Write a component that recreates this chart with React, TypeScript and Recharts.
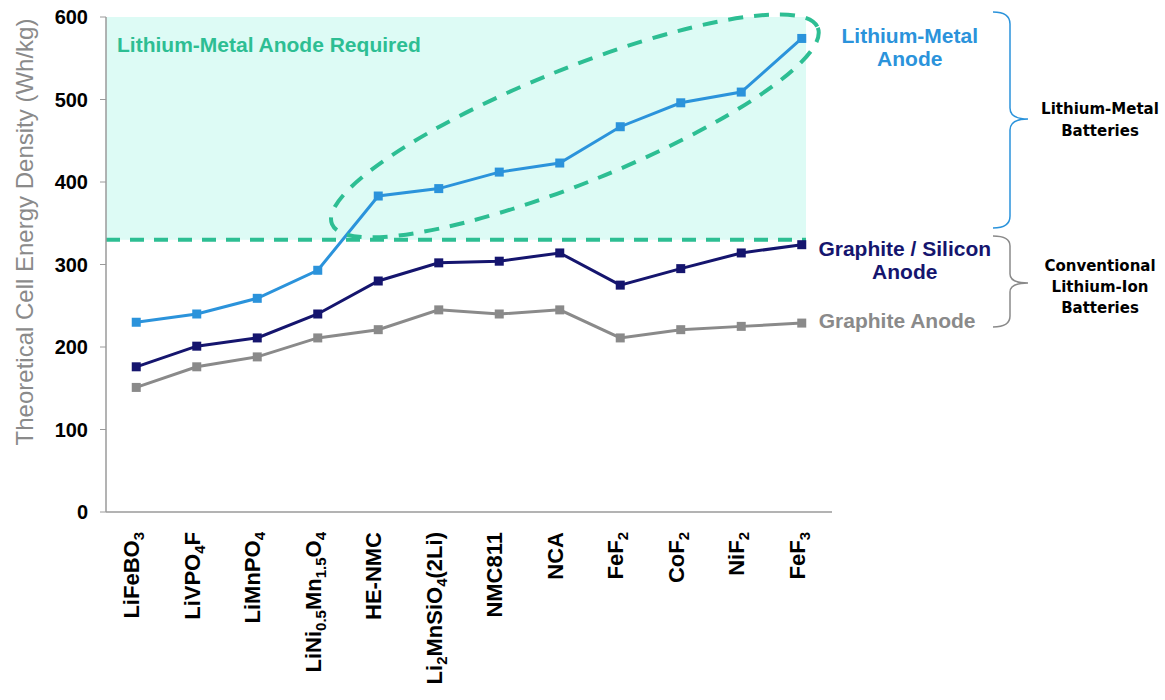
import {
  LineChart,
  Line,
  XAxis,
  YAxis,
  ReferenceArea,
  ReferenceLine,
  ReferenceDot,
  Customized,
} from 'recharts';

// Cathode materials; "_x" or "_{x}" marks a subscript
const materials = [
  'LiFeBO_3',
  'LiVPO_4F',
  'LiMnPO_4',
  'LiNi_{0.5}Mn_{1.5}O_4',
  'HE-NMC',
  'Li_2MnSiO_4(2Li)',
  'NMC811',
  'NCA',
  'FeF_2',
  'CoF_2',
  'NiF_2',
  'FeF_3',
];

// Theoretical cell energy density, Wh/kg
const lithiumMetal = [230, 240, 259, 293, 383, 392, 412, 423, 467, 496, 509, 574];
const graphiteSilicon = [176, 201, 211, 240, 280, 302, 304, 314, 275, 295, 314, 324];
const graphite = [151, 176, 188, 211, 221, 245, 240, 245, 211, 221, 225, 229];

const yTicks = [0, 100, 200, 300, 400, 500, 600];
const lithiumMetalThreshold = 330;

const rows = materials.map((name, i) => ({
  i,
  name,
  lithiumMetal: lithiumMetal[i],
  graphiteSilicon: graphiteSilicon[i],
  graphite: graphite[i],
}));

const FONT = '"Liberation Sans", Arial, sans-serif';
const BLUE = '#2B93DB';
const NAVY = '#15156E';
const GREY = '#8A8A8A';
const TEAL = '#2DBE93';
const LAST = materials.length - 1;

function splitFormula(s: string) {
  const parts: { text: string; sub: boolean }[] = [];
  const re = /_\{([^}]*)\}|_(.)/g;
  let pos = 0;
  let m: RegExpExecArray | null;
  while ((m = re.exec(s))) {
    if (m.index > pos) parts.push({ text: s.slice(pos, m.index), sub: false });
    parts.push({ text: m[1] ?? m[2], sub: true });
    pos = m.index + m[0].length;
  }
  if (pos < s.length) parts.push({ text: s.slice(pos), sub: false });
  return parts;
}

function MaterialTick({ x, y, payload }: any) {
  const parts = splitFormula(materials[payload.value] ?? '');
  return (
    <text
      transform={`translate(${x + 3},${y}) rotate(-90)`}
      textAnchor="end"
      fontFamily={FONT}
      fontSize={22}
      fontWeight="bold"
      fill="#000"
    >
      {parts.map((p, k) => {
        const prevSub = k > 0 && parts[k - 1].sub;
        if (p.sub) {
          return (
            <tspan key={k} fontSize={15} dy={prevSub ? 0 : 5}>
              {p.text}
            </tspan>
          );
        }
        return (
          <tspan key={k} dy={prevSub ? -5 : 0}>
            {p.text}
          </tspan>
        );
      })}
    </text>
  );
}

function squareDot(color: string) {
  return (p: any) => (
    <rect
      key={`dot-${p.index}`}
      x={p.cx - 4.5}
      y={p.cy - 4.5}
      width={9}
      height={9}
      fill={color}
    />
  );
}

// label drawn to the right of a series' last point
function endLabel(lines: string[], color: string, dx: number, dy: number, anchor: 'start' | 'middle') {
  return (props: any) => {
    const { x, y } = props.viewBox;
    return (
      <text fontFamily={FONT} fontSize={21} fontWeight="bold" fill={color} textAnchor={anchor}>
        {lines.map((line, k) => (
          <tspan key={k} x={x + dx} y={y + dy + k * 23}>
            {line}
          </tspan>
        ))}
      </text>
    );
  };
}

function Annotations() {
  const groupText = {
    fontFamily: '"DejaVu Sans", Verdana, sans-serif',
    fontSize: 15,
    fontWeight: 'bold' as const,
    fill: '#000',
    textAnchor: 'middle' as const,
  };
  return (
    <g>
      <text
        transform="translate(33,232) rotate(-90)"
        textAnchor="middle"
        fontFamily={FONT}
        fontSize={24}
        fill={GREY}
      >
        Theoretical Cell Energy Density (Wh/kg)
      </text>

      <path
        d="M993,12 Q1010,12 1010,24 L1010,108 Q1010,119 1028,119 Q1010,119 1010,130 L1010,216 Q1010,228 993,228"
        fill="none"
        stroke={BLUE}
        strokeWidth={1.5}
      />
      <text {...groupText}>
        <tspan x={1100} y={114}>Lithium-Metal</tspan>
        <tspan x={1100} y={136}>Batteries</tspan>
      </text>

      <path
        d="M993,236 Q1010,236 1010,246 L1010,274 Q1010,283 1028,283 Q1010,283 1010,292 L1010,316 Q1010,327 993,327"
        fill="none"
        stroke={GREY}
        strokeWidth={1.5}
      />
      <text {...groupText}>
        <tspan x={1100} y={271}>Conventional</tspan>
        <tspan x={1100} y={292}>Lithium-Ion</tspan>
        <tspan x={1100} y={313}>Batteries</tspan>
      </text>
    </g>
  );
}

export default function App() {
  return (
    <div style={{ position: 'absolute', left: 0, top: 0, width: 1165, height: 700, background: '#fff' }}>
      <LineChart width={1165} height={700} data={rows} margin={{ top: 17, right: 333, left: 0, bottom: 0 }}>
        <XAxis
          type="number"
          dataKey="i"
          domain={[-0.5, 11.5]}
          ticks={rows.map(r => r.i)}
          interval={0}
          height={188}
          tickSize={0}
          tickMargin={20}
          tick={<MaterialTick />}
          axisLine={{ stroke: '#9A9A9A', strokeWidth: 1.5 }}
        />
        <YAxis
          type="number"
          domain={[0, 600]}
          ticks={yTicks}
          width={106}
          tickSize={6}
          tickMargin={12}
          tick={{ fontFamily: FONT, fontSize: 20, fontWeight: 'bold', fill: '#000' }}
          tickLine={{ stroke: '#9A9A9A' }}
          axisLine={{ stroke: '#9A9A9A', strokeWidth: 1.5 }}
        />

        <ReferenceArea
          x1={-0.5}
          x2={11.07}
          y1={lithiumMetalThreshold}
          y2={600}
          fill="#DDFBF5"
          fillOpacity={1}
          stroke="none"
          label={(props: any) => (
            <text
              x={props.viewBox.x + 11}
              y={props.viewBox.y + 35}
              fontFamily={FONT}
              fontSize={21}
              fontWeight="bold"
              fill={TEAL}
            >
              Lithium-Metal Anode Required
            </text>
          )}
        />
        <ReferenceLine
          segment={[
            { x: -0.5, y: lithiumMetalThreshold },
            { x: 11.07, y: lithiumMetalThreshold },
          ]}
          stroke={TEAL}
          strokeWidth={4}
          strokeDasharray="14 10"
        />
        {/* dashed loop around the lithium-metal cathodes */}
        <ReferenceDot
          x={7.25}
          y={468}
          shape={(p: any) => (
            <ellipse
              cx={p.cx}
              cy={p.cy}
              rx={262}
              ry={57}
              transform={`rotate(-22 ${p.cx} ${p.cy})`}
              fill="none"
              stroke={TEAL}
              strokeWidth={4}
              strokeDasharray="15 11"
            />
          )}
        />

        <Line
          dataKey="graphite"
          stroke={GREY}
          strokeWidth={3}
          dot={squareDot(GREY)}
          activeDot={false}
          isAnimationActive={false}
        />
        <Line
          dataKey="graphiteSilicon"
          stroke={NAVY}
          strokeWidth={3}
          dot={squareDot(NAVY)}
          activeDot={false}
          isAnimationActive={false}
        />
        <Line
          dataKey="lithiumMetal"
          stroke={BLUE}
          strokeWidth={3}
          dot={squareDot(BLUE)}
          activeDot={false}
          isAnimationActive={false}
        />

        <ReferenceDot
          x={LAST}
          y={lithiumMetal[LAST]}
          r={0}
          fill="none"
          stroke="none"
          label={endLabel(['Lithium-Metal', 'Anode'], BLUE, 108, 5, 'middle')}
        />
        <ReferenceDot
          x={LAST}
          y={graphiteSilicon[LAST]}
          r={0}
          fill="none"
          stroke="none"
          label={endLabel(['Graphite / Silicon', 'Anode'], NAVY, 103, 11, 'middle')}
        />
        <ReferenceDot
          x={LAST}
          y={graphite[LAST]}
          r={0}
          fill="none"
          stroke="none"
          label={endLabel(['Graphite Anode'], GREY, 17, 5, 'start')}
        />

        <Customized component={Annotations} />
      </LineChart>
    </div>
  );
}
